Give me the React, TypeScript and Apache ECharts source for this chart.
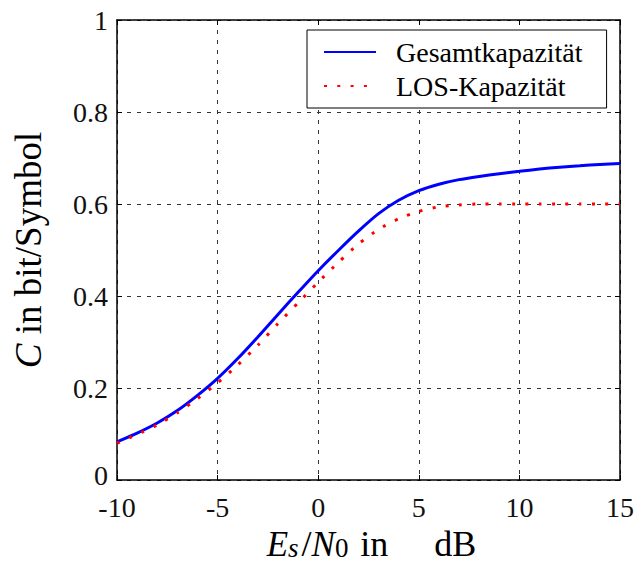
import React, { useEffect, useRef } from "react";
import * as echarts from "echarts";

const snrDb = [-10, -9, -8, -7, -6, -5, -4, -3, -2, -1, 0, 1, 2, 3, 4, 5, 6, 7, 8, 9, 10, 11, 12, 13, 14, 15];
const gesamtKapazitaet = [0.083, 0.102, 0.124, 0.151, 0.184, 0.221, 0.264, 0.311, 0.36, 0.408, 0.455, 0.499, 0.541, 0.579, 0.608, 0.629, 0.643, 0.653, 0.66, 0.666, 0.671, 0.676, 0.68, 0.683, 0.686, 0.688];
const losKapazitaet = [0.08, 0.099, 0.12, 0.146, 0.177, 0.211, 0.25, 0.293, 0.34, 0.385, 0.43, 0.473, 0.513, 0.545, 0.568, 0.584, 0.594, 0.598, 0.6, 0.6, 0.6, 0.6, 0.6, 0.6, 0.6, 0.6];
const seriesNames = ["Gesamtkapazität", "LOS-Kapazität"];
const xTitle = "{e|E}{s|s}{t|/}{e|N}{z|0}{t| in}{d|dB}";
const yTitle = "{c|C} in bit/Symbol";

const FONT = "Liberation Serif";

export default function App() {
  const ref = useRef<HTMLDivElement>(null);
  useEffect(() => {
    if (!ref.current) return;
    const chart = echarts.init(ref.current, undefined, { renderer: "svg" });
    const axisCommon = {
      type: "value" as const,
      axisLine: { show: true, onZero: false, lineStyle: { color: "#000", width: 1.5 } },
      axisTick: { show: true, inside: true, length: 5, lineStyle: { color: "#000", width: 1 } },
    };
    const gridLine = { show: true, lineStyle: { color: "#333", width: 1, type: [4, 6] as number[] } };
    const tickStyle = { fontFamily: FONT, fontSize: 28, color: "#111", fontStyle: "normal", fontWeight: "normal" };
    chart.setOption({
      animation: false,
      backgroundColor: "#fff",
      textStyle: { fontFamily: FONT },
      grid: { left: 117, top: 20, width: 503, height: 460, containLabel: false, outerBoundsMode: "none" },
      legend: {
        left: 307,
        top: 30,
        orient: "vertical",
        data: seriesNames,
        itemWidth: 52,
        itemHeight: 14,
        itemGap: 6,
        padding: [8, 24, 8, 16],
        borderColor: "#000",
        borderWidth: 1,
        backgroundColor: "#fff",
        itemStyle: { opacity: 0 },
        textStyle: { fontFamily: FONT, fontSize: 28, lineHeight: 27, color: "#000", padding: [0, 0, 0, 15] },
      },
      xAxis: [
        {
          ...axisCommon,
          min: -10,
          max: 15,
          interval: 5,
          position: "bottom",
          splitLine: gridLine,
          axisLabel: {
            fontFamily: FONT,
            fontSize: 28,
            lineHeight: 22,
            color: "#111",
            margin: 16,
            formatter: "{v|{value}}",
            rich: { v: { ...tickStyle, lineHeight: 22 } },
          },
          name: xTitle,
          nameLocation: "middle",
          nameGap: 35,
          nameTextStyle: {
            fontFamily: FONT,
            color: "#000",
            padding: [0, 0, 0, 6],
            rich: {
              e: { fontFamily: FONT, fontSize: 35, fontStyle: "italic", color: "#000", lineHeight: 32, verticalAlign: "bottom" },
              s: { fontFamily: FONT, fontSize: 27, fontStyle: "italic", color: "#000", lineHeight: 22, verticalAlign: "bottom", padding: [0, 3, 0, 0] },
              z: { fontFamily: FONT, fontSize: 27, color: "#000", lineHeight: 22, verticalAlign: "bottom", padding: [0, 3, 0, 0] },
              t: { fontFamily: FONT, fontSize: 36, color: "#000", lineHeight: 32, verticalAlign: "bottom" },
              d: { fontFamily: FONT, fontSize: 36, color: "#000", lineHeight: 32, verticalAlign: "bottom", padding: [0, 0, 0, 46] },
            },
          },
        },
        {
          ...axisCommon,
          min: -10,
          max: 15,
          interval: 5,
          position: "top",
          splitLine: { show: false },
          axisLabel: { show: false },
        },
      ],
      yAxis: [
        {
          ...axisCommon,
          min: 0,
          max: 1,
          interval: 0.2,
          position: "left",
          splitLine: gridLine,
          axisLabel: {
            fontFamily: FONT,
            fontSize: 28,
            lineHeight: 20,
            color: "#111",
            margin: 9,
            formatter: (value: number) =>
              value === 0 ? "{z|0}" : `{v|${Number(value.toFixed(1))}}`,
            rich: {
              v: { ...tickStyle, lineHeight: 20 },
              z: { ...tickStyle, lineHeight: 20, padding: [0, 0, 10, 0] },
            },
          },
          name: yTitle,
          nameLocation: "middle",
          nameGap: 70,
          nameTextStyle: {
            fontFamily: FONT,
            fontSize: 37,
            color: "#000",
            rich: { c: { fontFamily: FONT, fontSize: 37, fontStyle: "italic", color: "#000" } },
          },
        },
        {
          ...axisCommon,
          min: 0,
          max: 1,
          interval: 0.2,
          position: "right",
          splitLine: { show: false },
          axisLabel: { show: false },
        },
      ],
      series: [
        {
          name: seriesNames[0],
          type: "line",
          data: snrDb.map((x, i) => [x, gesamtKapazitaet[i]]),
          symbol: "none",
          smooth: 0.2,
          lineStyle: { color: "#0000ff", width: 3 },
          itemStyle: { color: "#0000ff" },
        },
        {
          name: seriesNames[1],
          type: "line",
          data: snrDb.map((x, i) => [x, losKapazitaet[i]]),
          symbol: "none",
          smooth: 0.2,
          lineStyle: { color: "#ff0000", width: 3, type: [3, 10.3] },
          itemStyle: { color: "#ff0000" },
        },
      ],
    });
    return () => chart.dispose();
  }, []);
  return (
    <div
      ref={ref}
      style={{ position: "absolute", left: 0, top: 0, width: 636, height: 565, background: "#fff" }}
    />
  );
}
